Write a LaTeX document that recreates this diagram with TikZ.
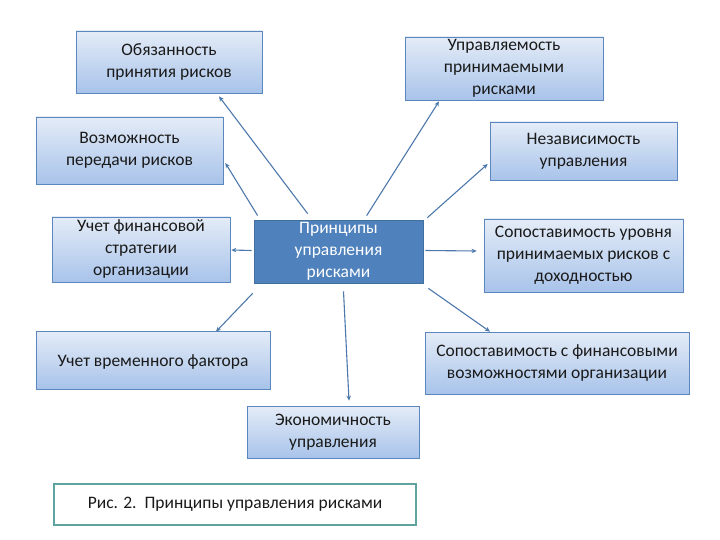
\documentclass[tikz,border=0pt]{standalone}
\usepackage{fontspec}
\setmainfont{Carlito}
\usetikzlibrary{calc,arrows.meta}
\definecolor{boxtop}{HTML}{E4ECF7}
\definecolor{boxbot}{HTML}{A8C3EA}
\definecolor{boxline}{HTML}{5B86BE}
\definecolor{cfill}{HTML}{4F81BD}
\definecolor{cline}{HTML}{41709F}
\definecolor{arr}{HTML}{4D78AC}
\definecolor{capline}{HTML}{5FA3A0}
\definecolor{txt}{HTML}{1A1A1A}
\tikzset{
  pbox/.style={draw=boxline, line width=0.7pt, top color=boxtop, bottom color=boxbot,
    align=center, inner sep=1pt, font=\fontsize{17.5}{22}\selectfont, text=txt,
    execute at begin node={\rule{0pt}{16pt}}},
  cbox/.style={draw=cline, line width=0.7pt, fill=cfill, align=center, inner sep=1pt,
    font=\fontsize{17.5}{22}\selectfont, text=white},
  capbox/.style={draw=capline, line width=1.6pt, fill=white, align=center,
    font=\fontsize{17.5}{20}\selectfont, text=txt},
  link/.style={draw=arr, line width=1.1pt, -{Stealth[length=5pt,width=4.5pt]}}
}
\begin{document}
\begin{tikzpicture}[x=1pt,y=-1pt]
\useasboundingbox (0,0) rectangle (720,540);
% boxes
\node[pbox, minimum width=186pt, minimum height=62pt] (ob) at (169,62) {Обязанность\\принятия рисков};
\node[pbox, minimum width=198pt, minimum height=63pt] (up) at (504,68.5) {Управляемость\\принимаемыми\\рисками};
\node[pbox, minimum width=187pt, minimum height=67pt] (vo) at (129.5,150.5) {Возможность\\передачи рисков};
\node[pbox, minimum width=187pt, minimum height=58pt] (ne) at (583.5,151) {Независимость\\управления};
\node[pbox, minimum width=178pt, minimum height=65pt] (uf) at (141,249.5) {Учет финансовой\\стратегии\\организации};
\node[cbox, minimum width=169pt, minimum height=63pt] (ce) at (338.5,251.5) {Принципы\\управления\\рисками};
\node[pbox, minimum width=199pt, minimum height=73pt] (su) at (583.5,255.5) {Сопоставимость уровня\\принимаемых рисков с\\доходностью};
\node[pbox, minimum width=234pt, minimum height=58pt] (uv) at (153,360) {Учет временного фактора};
\node[pbox, minimum width=264pt, minimum height=62pt] (sf) at (557,363) {Сопоставимость с финансовыми\\возможностями организации};
\node[pbox, minimum width=172pt, minimum height=52pt] (ek) at (333,432) {Экономичность\\управления};
\node[capbox, minimum width=362pt, minimum height=41pt] (cap) at (235,504.5) {Рис. 2.\ \ Принципы управления рисками};
% start points near the centre box
\coordinate (s1) at ($(ce.north west)+(54,-6)$);
\coordinate (s2) at ($(ce.north west)+(4,-4)$);
\coordinate (s3) at ($(ce.north west)+(113,-4)$);
\coordinate (s4) at ($(ce.north east)+(4,-2)$);
\coordinate (s5) at ($(ce.west)+(-2,-1)$);
\coordinate (s6) at ($(ce.east)+(2,-1)$);
\coordinate (s7) at ($(ce.south west)+(-1,10)$);
\coordinate (s8) at ($(ce.south)+(5,8)$);
\coordinate (s9) at ($(ce.south east)+(5,5)$);
% end points at the outer boxes
\coordinate (e1) at ($(ob.south)+(50,3)$);
\coordinate (e2) at ($(vo.east)+(2,12.5)$);
\coordinate (e3) at ($(up.south)+(-65,1)$);
\coordinate (e4) at ($(ne.west)+(-2,13)$);
\coordinate (e5) at ($(uf.east)+(1,0.5)$);
\coordinate (e6) at ($(su.west)+(-7,-4.5)$);
\coordinate (e7) at ($(uv.north)+(63,1)$);
\coordinate (e8) at ($(ek.north)+(16,-5)$);
\coordinate (e9) at ($(sf.north)+(-67,0)$);
\draw[link] (s1) -- (e1);
\draw[link] (s2) -- (e2);
\draw[link] (s3) -- (e3);
\draw[link] (s4) -- (e4);
\draw[link] (s5) -- (e5);
\draw[link] (s6) -- (e6);
\draw[link] (s7) -- (e7);
\draw[link] (s8) -- (e8);
\draw[link] (s9) -- (e9);
\end{tikzpicture}
\end{document}
